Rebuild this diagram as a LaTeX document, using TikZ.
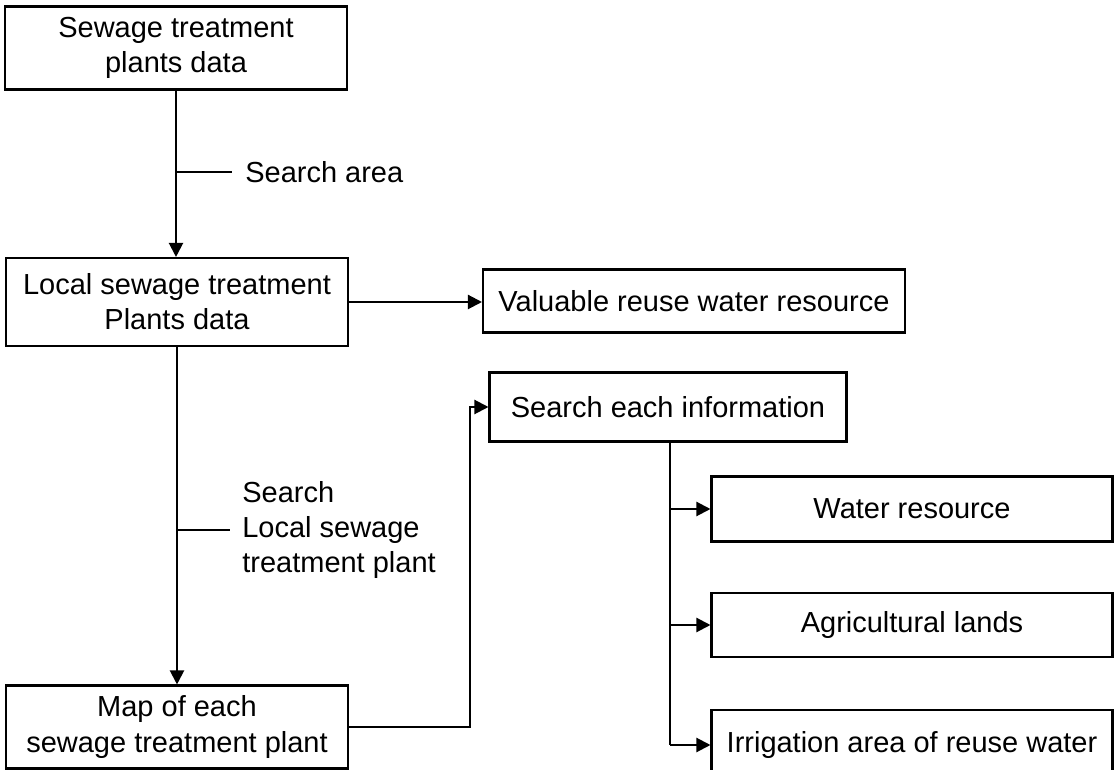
\documentclass[tikz,border=0pt]{standalone}
\usepackage{fontspec}
\setmainfont{Liberation Sans}
\usetikzlibrary{arrows.meta}
\tikzset{
  box/.style  = {draw, line width=1.2pt, align=center, inner sep=0pt,
                 font=\fontsize{16.5}{20}\selectfont},
  flow/.style = {line width=1.2pt, -{Triangle[length=0.28cm,width=0.28cm]}},
  tick/.style = {line width=1.2pt},
  note/.style = {anchor=west, align=left, inner sep=0pt,
                 font=\fontsize{16.5}{20}\selectfont},
}

\begin{document}
\begin{tikzpicture}[x=0.02cm, y=-0.02cm]
        \useasboundingbox (0,0) rectangle (1117,770);
        % left column
        \node[box, minimum width=6.84cm, minimum height=1.66cm] (plants) at (176,48) {Sewage treatment\\plants data};
        \node[box, minimum width=6.84cm, minimum height=1.76cm] (local) at (177,302) {Local sewage treatment\\Plants data};
        \node[box, minimum width=6.84cm, minimum height=1.66cm] (map) at (177,727) {Map of each\\sewage treatment plant};
        % right column
        \node[box, minimum width=8.44cm, minimum height=1.26cm] (valuable) at (694,301) {Valuable reuse water resource};
        \node[box, minimum width=7.14cm, minimum height=1.38cm] (info) at (668,407) {Search each information};
        \node[box, minimum width=8.02cm, minimum height=1.30cm] (water) at (912,509) {Water resource};
        \node[box, minimum width=8.02cm, minimum height=1.28cm] (lands) at (912,625) {Agricultural lands};
        \node[box, minimum width=8.02cm, minimum height=1.40cm] (irrigation) at (912,745) {Irrigation area of reuse water};
        % labels on the links
        \node[note] (areaLbl) at (245,172) {Search area};
        \node[note] (plantLbl) at (242,530) {Search\\Local sewage\\treatment plant};
        % links
        \draw[flow] (plants.south) -- (plants.south |- local.north);
        \draw[tick] (plants.south |- areaLbl.west) -- ([xshift=-0.26cm]areaLbl.west);
        \draw[flow] (local.east) -- (local.east -| valuable.west);
        \draw[flow] (local.south) -- (local.south |- map.north);
        \draw[tick] (local.south |- plantLbl.west) -- ([xshift=-0.24cm]plantLbl.west);
        \coordinate (bend) at (470,0);
        \draw[flow] (map.east) -| (bend |- info.west) -- (info.west);
        \coordinate (trunk) at (670,0);
        \draw[tick] (trunk |- info.south) -- (trunk |- irrigation.west);
        \foreach \n in {water,lands,irrigation} {
            \draw[flow] (trunk |- \n.west) -- (\n.west);
        }
    \end{tikzpicture}
\end{document}
